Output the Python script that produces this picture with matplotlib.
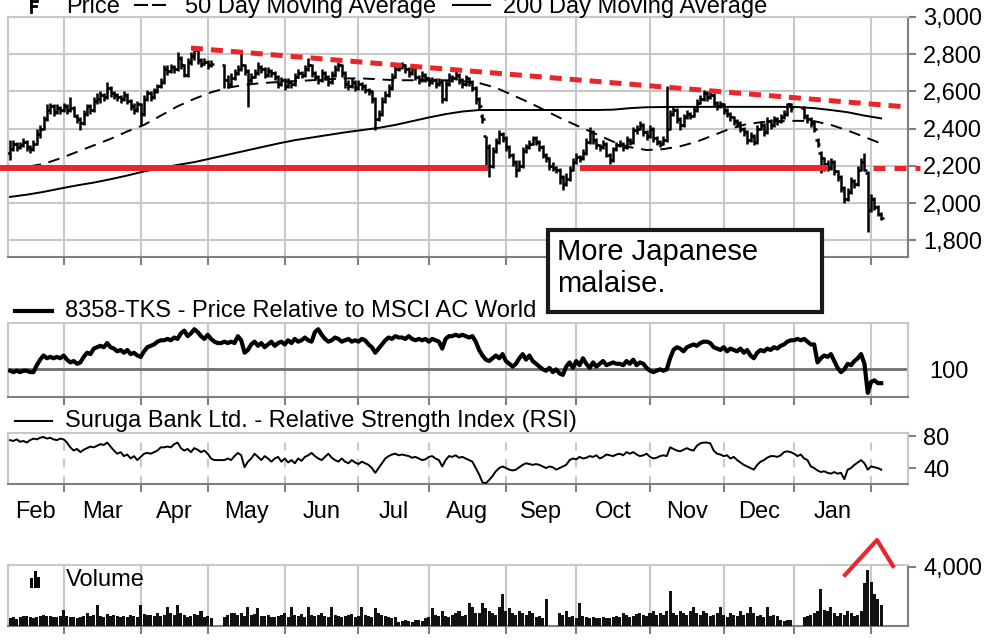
import numpy as np
import pandas as pd
import matplotlib
matplotlib.use('Agg')
import matplotlib.pyplot as plt
from matplotlib.lines import Line2D
from matplotlib.patches import Rectangle

plt.rcParams['font.family'] = ['Liberation Sans', 'DejaVu Sans']
plt.rcParams['font.size'] = 17

# trading days, Feb 2017 - Feb 2018 (None = market closed)
dates = pd.bdate_range('2017-02-07', '2018-02-06')
month_labels = ['Feb', 'Mar', 'Apr', 'May', 'Jun', 'Jul', 'Aug', 'Sep', 'Oct', 'Nov', 'Dec', 'Jan']

opens = [
    2270, 2290, 2320, 2300, 2310, 2330, 2300, 2290, 2320, 2370,
    2400, 2450, 2500, 2520, 2490, 2510, 2500, 2520, 2500, 2510,
    2470, 2450, 2430, 2480, 2520, 2500, 2550, 2560, 2580, 2570,
    2620, 2590, 2580, 2570, 2560, 2580, 2550, 2520, 2500, 2530,
    2480, 2560, 2590, 2570, 2600, 2630, 2650, 2720, 2710, 2730,
    2720, 2780, 2740, 2690, 2760, 2790, 2820, 2770, 2750, 2760,
    2740, None, None, None, 2740, 2660, 2640, 2670, 2700, 2720,
    2740, 2710, 2660, 2680, 2700, 2730, 2720, 2690, 2710, 2700,
    2680, 2640, 2660, 2630, 2650, 2640, 2680, 2700, 2690, 2720,
    2740, 2700, 2680, 2660, 2700, 2680, 2650, 2690, 2720, 2740,
    2700, 2640, 2630, 2650, 2620, 2640, 2630, 2610, 2600, 2560,
    2450, 2480, 2550, 2580, 2620, 2680, 2720, 2730, 2740, 2720,
    2700, 2730, 2680, 2660, 2690, 2670, 2650, 2660, 2640, 2650,
    2560, 2640, 2680, 2670, 2690, 2660, 2640, 2670, 2650, 2620,
    2560, 2470, 2360, 2300, 2200, 2280, 2330, 2370, 2350, 2300,
    2260, 2220, 2180, 2200, 2280, 2300, 2320, 2350, 2330, 2300,
    2260, 2240, 2200, 2190, 2180, 2140, 2100, 2130, 2180, 2220,
    2250, 2240, 2270, 2330, 2380, 2340, 2310, 2300, 2320, 2260,
    2230, 2290, 2310, 2320, 2300, 2340, 2330, 2390, 2400, 2420,
    2380, 2360, 2400, 2350, 2330, 2320, 2340, 2400, 2480, 2500,
    2450, 2420, 2460, 2480, 2470, 2500, 2540, 2560, 2590, 2570,
    2580, 2540, 2520, 2530, 2500, 2480, 2460, 2440, 2430, 2400,
    2380, 2340, 2360, 2330, 2400, 2420, 2380, 2440, 2420, 2450,
    2440, 2460, 2480, 2530, None, None, None, 2510, 2470, 2450,
    2430, 2340, 2270, 2240, 2210, 2190, 2220, 2170, 2140, 2080,
    2020, 2060, 2120, 2100, 2180, 2220, 2160, 1960, 2020, 1980,
    1940,
]
highs = [
    2340, 2340, 2330, 2330, 2350, 2340, 2310, 2340, 2400, 2420,
    2470, 2530, 2540, 2530, 2530, 2520, 2540, 2530, 2570, 2520,
    2480, 2460, 2500, 2530, 2530, 2570, 2590, 2600, 2590, 2650,
    2630, 2600, 2590, 2580, 2600, 2590, 2560, 2540, 2550, 2540,
    2580, 2610, 2600, 2620, 2640, 2670, 2740, 2740, 2750, 2740,
    2810, 2790, 2750, 2780, 2810, 2845, 2830, 2780, 2780, 2770,
    2770, None, None, None, 2750, 2690, 2700, 2720, 2740, 2820,
    2750, 2720, 2700, 2720, 2760, 2740, 2730, 2730, 2720, 2710,
    2690, 2680, 2670, 2670, 2660, 2700, 2720, 2710, 2740, 2780,
    2750, 2710, 2690, 2720, 2710, 2690, 2710, 2740, 2760, 2750,
    2710, 2660, 2670, 2660, 2660, 2650, 2640, 2620, 2610, 2570,
    2500, 2570, 2600, 2640, 2700, 2740, 2750, 2760, 2750, 2730,
    2750, 2740, 2690, 2710, 2700, 2680, 2680, 2670, 2670, 2660,
    2660, 2700, 2690, 2710, 2700, 2670, 2690, 2680, 2660, 2630,
    2570, 2480, 2360, 2320, 2300, 2350, 2390, 2380, 2360, 2310,
    2270, 2230, 2230, 2300, 2320, 2340, 2360, 2360, 2340, 2310,
    2270, 2250, 2220, 2200, 2190, 2150, 2160, 2200, 2240, 2270,
    2260, 2290, 2350, 2410, 2390, 2350, 2320, 2340, 2330, 2270,
    2300, 2330, 2340, 2330, 2360, 2350, 2410, 2420, 2440, 2430,
    2390, 2420, 2410, 2360, 2340, 2360, 2630, 2500, 2520, 2510,
    2460, 2480, 2500, 2490, 2520, 2560, 2580, 2610, 2600, 2600,
    2590, 2550, 2550, 2540, 2510, 2490, 2470, 2450, 2440, 2410,
    2390, 2380, 2370, 2420, 2440, 2430, 2460, 2450, 2470, 2460,
    2480, 2500, 2540, 2540, None, None, None, 2520, 2480, 2460,
    2440, 2350, 2280, 2250, 2230, 2240, 2230, 2180, 2150, 2090,
    2080, 2140, 2130, 2200, 2240, 2270, 2170, 2050, 2030, 1990,
    1950,
]
lows = [
    2230, 2280, 2280, 2290, 2300, 2280, 2270, 2280, 2310, 2350,
    2390, 2440, 2480, 2470, 2480, 2480, 2490, 2480, 2490, 2460,
    2430, 2390, 2420, 2470, 2480, 2490, 2530, 2540, 2550, 2560,
    2570, 2560, 2550, 2540, 2550, 2530, 2500, 2480, 2490, 2415,
    2470, 2550, 2550, 2560, 2590, 2620, 2640, 2690, 2700, 2700,
    2710, 2720, 2680, 2680, 2740, 2770, 2750, 2730, 2740, 2720,
    2730, None, None, None, 2620, 2620, 2630, 2660, 2690, 2710,
    2690, 2515, 2640, 2670, 2690, 2700, 2670, 2680, 2680, 2660,
    2620, 2630, 2610, 2620, 2620, 2630, 2670, 2670, 2680, 2710,
    2680, 2660, 2640, 2650, 2660, 2630, 2640, 2680, 2710, 2680,
    2620, 2610, 2620, 2600, 2610, 2610, 2590, 2580, 2540, 2390,
    2440, 2470, 2540, 2570, 2610, 2670, 2710, 2720, 2700, 2680,
    2690, 2660, 2640, 2650, 2650, 2630, 2640, 2620, 2630, 2540,
    2550, 2630, 2650, 2660, 2640, 2620, 2630, 2630, 2600, 2530,
    2500, 2430, 2190, 2140, 2190, 2270, 2320, 2330, 2280, 2240,
    2200, 2140, 2170, 2190, 2270, 2290, 2310, 2310, 2280, 2240,
    2220, 2180, 2170, 2160, 2100, 2070, 2090, 2120, 2170, 2210,
    2220, 2230, 2260, 2320, 2320, 2290, 2280, 2290, 2250, 2210,
    2220, 2280, 2300, 2280, 2290, 2310, 2320, 2370, 2390, 2360,
    2340, 2350, 2330, 2310, 2300, 2310, 2330, 2390, 2470, 2430,
    2390, 2410, 2450, 2450, 2460, 2490, 2530, 2550, 2550, 2560,
    2520, 2500, 2510, 2480, 2460, 2440, 2420, 2410, 2380, 2360,
    2320, 2330, 2310, 2320, 2390, 2360, 2370, 2400, 2410, 2420,
    2430, 2450, 2470, 2490, None, None, None, 2450, 2430, 2410,
    2380, 2300, 2160, 2170, 2170, 2180, 2150, 2120, 2060, 2000,
    2010, 2050, 2080, 2090, 2170, 2170, 1845, 1950, 1960, 1930,
    1910,
]
closes = [
    2290, 2320, 2300, 2310, 2330, 2300, 2290, 2320, 2370, 2400,
    2450, 2500, 2520, 2490, 2510, 2500, 2520, 2500, 2510, 2470,
    2450, 2430, 2480, 2520, 2500, 2550, 2560, 2580, 2570, 2620,
    2590, 2580, 2570, 2560, 2580, 2550, 2520, 2500, 2530, 2480,
    2560, 2590, 2570, 2600, 2630, 2650, 2720, 2710, 2730, 2720,
    2780, 2740, 2690, 2760, 2790, 2820, 2770, 2750, 2760, 2740,
    2750, None, None, None, 2660, 2640, 2670, 2700, 2720, 2740,
    2710, 2660, 2680, 2700, 2730, 2720, 2690, 2710, 2700, 2680,
    2640, 2660, 2630, 2650, 2640, 2680, 2700, 2690, 2720, 2740,
    2700, 2680, 2660, 2700, 2680, 2650, 2690, 2720, 2740, 2700,
    2640, 2630, 2650, 2620, 2640, 2630, 2610, 2600, 2560, 2450,
    2480, 2550, 2580, 2620, 2680, 2720, 2730, 2740, 2720, 2700,
    2730, 2680, 2660, 2690, 2670, 2650, 2660, 2640, 2650, 2560,
    2640, 2680, 2670, 2690, 2660, 2640, 2670, 2650, 2620, 2560,
    2520, 2450, 2300, 2200, 2280, 2330, 2370, 2350, 2300, 2260,
    2220, 2180, 2200, 2280, 2300, 2320, 2350, 2330, 2300, 2260,
    2240, 2200, 2190, 2180, 2140, 2100, 2130, 2180, 2220, 2250,
    2240, 2270, 2330, 2380, 2340, 2310, 2300, 2320, 2260, 2230,
    2290, 2310, 2320, 2300, 2340, 2330, 2390, 2400, 2420, 2380,
    2360, 2400, 2350, 2330, 2320, 2340, 2400, 2480, 2500, 2450,
    2420, 2460, 2480, 2470, 2500, 2540, 2560, 2590, 2570, 2580,
    2540, 2520, 2530, 2500, 2480, 2460, 2440, 2430, 2400, 2380,
    2340, 2360, 2330, 2400, 2420, 2380, 2440, 2420, 2450, 2440,
    2460, 2480, 2530, 2510, None, None, None, 2470, 2450, 2430,
    2400, 2320, 2240, 2210, 2190, 2220, 2170, 2140, 2080, 2020,
    2060, 2120, 2100, 2180, 2220, 2180, 1960, 2020, 1980, 1940,
    1920,
]

# moving averages, read every 5th trading day
ma50 = [
    2190, 2195, 2210, 2240, 2275, 2310, 2345, 2385, 2420, 2470,
    2520, 2560, 2595, 2620, 2635, 2645, 2650, 2655, 2660, 2665,
    2670, 2670, 2665, 2660, 2660, 2660, 2660, 2655, 2645, 2620,
    2580, 2540, 2495, 2450, 2410, 2370, 2330, 2300, 2285, 2290,
    2305, 2330, 2365, 2400, 2425, 2436, 2440, 2442, 2440, 2420,
    2390, 2355, 2320,
]
ma200 = [
    2033, 2045, 2060, 2078, 2095, 2110, 2128, 2148, 2170, 2188,
    2205, 2220, 2240, 2260, 2280, 2300, 2320, 2338, 2352, 2366,
    2380, 2392, 2404, 2420, 2440, 2460, 2478, 2492, 2500, 2500,
    2500, 2500, 2500, 2500, 2500, 2500, 2502, 2510, 2515, 2516,
    2517, 2517, 2517, 2517, 2517, 2517, 2517, 2516, 2510, 2500,
    2488, 2470, 2455,
]

rel = [
    99, 98, 99, 98, 99, 99, 98, 98, 103, 107,
    110, 108, 109, 108, 109, 108, 110, 107, 105, 106,
    104, 105, 109, 112, 111, 115, 116, 117, 116, 119,
    116, 115, 113, 114, 112, 114, 111, 112, 110, 109,
    113, 116, 117, 118, 120, 121, 121, 122, 121, 123,
    122, 126, 128, 124, 126, 129, 127, 124, 122, 125,
    122, 120, 119, 119, 120, 119, 120, 119, 124, 121,
    112, 114, 118, 120, 117, 119, 116, 118, 120, 117,
    119, 120, 118, 121, 119, 122, 120, 121, 123, 121,
    120, 127, 129, 125, 122, 120, 121, 123, 122, 120,
    121, 122, 120, 121, 120, 122, 121, 118, 116, 112,
    115, 118, 121, 123, 122, 124, 123, 123, 122, 124,
    122, 121, 122, 121, 122, 120, 122, 121, 120, 115,
    122, 124, 124, 125, 124, 125, 124, 123, 124, 120,
    114, 110, 107, 106, 108, 110, 108, 111, 106, 104,
    102, 104, 108, 111, 107, 110, 106, 104, 102, 100,
    99, 101, 98, 100, 97, 96, 102, 105, 101, 106,
    103, 108, 104, 101, 105, 102, 104, 106, 103, 104,
    105, 104, 104, 103, 106, 104, 107, 103, 105, 104,
    101, 99, 98, 99, 100, 99, 100, 108, 114, 116,
    115, 113, 116, 117, 118, 117, 119, 120, 120, 119,
    116, 115, 114, 116, 113, 115, 114, 113, 115, 112,
    114, 110, 108, 112, 114, 113, 115, 114, 116, 115,
    117, 118, 120, 121, 121, 122, 121, 122, 120, 118,
    118, 105, 108, 110, 109, 111, 106, 101, 98, 100,
    104, 103, 106, 108, 111, 104, 83, 91, 92, 90,
    90,
]

rsi = [
    75, 74, 76, 73, 74, 72, 75, 77, 76, 78,
    79, 77, 78, 76, 75, 77, 76, 72, 66, 62,
    64, 60, 63, 65, 67, 66, 68, 70, 69, 72,
    67, 62, 58, 60, 55, 57, 52, 55, 50, 54,
    58, 59, 58, 60, 62, 66, 66, 67, 66, 70,
    72, 65, 62, 64, 60, 65, 63, 60, 62, 58,
    52, 50, 50, 50, 50, 52, 50, 55, 59, 56,
    41, 48, 52, 58, 54, 50, 55, 52, 48, 52,
    54, 48, 52, 47, 50, 46, 52, 49, 54, 56,
    59, 55, 52, 50, 54, 58, 53, 50, 48, 52,
    48, 46, 50, 47, 45, 48, 46, 44, 40, 34,
    40, 46, 52, 55, 57, 58, 56, 57, 56, 55,
    53, 54, 52, 50, 51, 54, 55, 52, 50, 42,
    50, 55, 54, 56, 53, 54, 52, 50, 48, 40,
    32, 22, 21, 25, 30, 36, 40, 42, 40, 38,
    37, 38, 41, 44, 46, 45, 44, 45, 44, 42,
    40, 42, 41, 38, 40, 42, 44, 50, 52, 51,
    54, 52, 53, 55, 54, 56, 52, 54, 57, 56,
    55, 57, 58, 56, 60, 58, 60, 57, 55, 56,
    58, 54, 52, 53, 55, 56, 55, 66, 64, 62,
    61, 63, 65, 63, 62, 68, 71, 72, 72, 71,
    62, 58, 57, 55, 56, 52, 54, 50, 47, 44,
    42, 40, 38, 44, 48, 50, 53, 55, 55, 54,
    56, 60, 61, 60, 58, 55, 57, 52, 50, 42,
    40, 37, 35, 36, 34, 33, 35, 33, 34, 26,
    38, 40, 44, 47, 50, 46, 38, 42, 41, 40,
    38,
]

volume = [
    550, 620, 500, 580, 650, 700, 600, 560, 640, 680,
    720, 650, 700, 600, 620, 680, 1080, 700, 640, 600,
    560, 620, 700, 880, 650, 760, 1420, 700, 640, 820,
    700, 760, 650, 600, 700, 620, 760, 680, 640, 1420,
    800, 720, 760, 680, 880, 700, 760, 1300, 880, 760,
    1420, 900, 760, 640, 700, 820, 760, 1035, 640, 700,
    560, 0, 0, 0, 620, 760, 880, 900, 720, 900,
    700, 1300, 760, 820, 1200, 700, 680, 760, 640, 580,
    700, 760, 880, 640, 1300, 760, 700, 820, 640, 1300,
    720, 680, 760, 880, 700, 640, 1300, 760, 700, 640,
    700, 760, 820, 640, 700, 1300, 760, 700, 640, 1200,
    880, 760, 700, 640, 560, 600, 300, 350, 400, 320,
    300, 380, 420, 360, 520, 640, 1250, 760, 700, 1000,
    700, 640, 760, 880, 1000, 700, 760, 1530, 1300, 880,
    880, 1530, 1250, 1000, 880, 760, 1300, 2200, 1000, 1250,
    880, 760, 1000, 880, 760, 1000, 880, 640, 700, 560,
    1800, 0, 0, 0, 880, 760, 1000, 640, 700, 560,
    1530, 700, 640, 560, 600, 520, 560, 600, 520, 560,
    640, 700, 600, 880, 760, 640, 700, 800, 880, 760,
    700, 880, 1000, 760, 880, 760, 1000, 2360, 880, 760,
    1000, 880, 760, 1000, 1260, 880, 760, 1000, 880, 700,
    760, 880, 1260, 760, 640, 880, 760, 700, 1000, 760,
    880, 1260, 880, 700, 760, 640, 1260, 700, 760, 700,
    400, 350, 420, 380, 0, 0, 0, 640, 700, 760,
    880, 1000, 2500, 1100, 1000, 1260, 880, 700, 880, 760,
    1000, 880, 700, 760, 1000, 2880, 3825, 3000, 2200, 1800,
    1420,
]

# drawn-in annotations (price units / trading day index)
resistance = ([54, 268], [2833, 2516])
support_level = 2190
support_solid = [(-3, 142.7), (170, 244)]
support_dashed = (257.6, 271.6)

W, H = 988, 641
GRID = '#c8c8c8'
DARK = '#7f7f7f'
RED = '#e8262b'


def fx(px):
    return px / W


def fy(py):
    return 1 - py / H


def box(left, top, right, bottom):
    return [fx(left), fy(bottom), (right - left) / W, (bottom - top) / H]


o = np.array(opens, dtype=float)
h = np.array(highs, dtype=float)
l = np.array(lows, dtype=float)
c = np.array(closes, dtype=float)
n = len(c)
x = np.arange(n)
ok = ~np.isnan(c)
ma_x = np.arange(0, n, 5)

month_starts = [i for i in range(1, n) if dates[i].month != dates[i - 1].month]
bounds = [-0.6] + month_starts
label_pos = [(bounds[k] + bounds[k + 1]) / 2 for k in range(len(month_labels))]

fig = plt.figure(figsize=(W / 100, H / 100), dpi=100)
ax_p = fig.add_axes(box(8, 17, 908, 257))
ax_r = fig.add_axes(box(8, 323, 908, 397))
ax_s = fig.add_axes(box(8, 433, 908, 484))
ax_v = fig.add_axes(box(8, 565, 908, 626))


def style(ax, right_color, dashed_grid=False):
    ax.set_xlim(-0.6, 268)
    ax.set_facecolor('white')
    for s in ['top', 'left']:
        ax.spines[s].set_color(GRID)
        ax.spines[s].set_linewidth(1.5)
    ax.spines['right'].set_color(right_color)
    ax.spines['right'].set_linewidth(1.5)
    ax.spines['bottom'].set_color(DARK)
    ax.spines['bottom'].set_linewidth(1.5)
    ax.set_xticks(month_starts)
    ax.set_xticklabels([])
    ax.tick_params(axis='x', direction='out', length=6, width=1.5, color=DARK)
    ax.yaxis.tick_right()
    ax.tick_params(axis='y', direction='out', length=6, width=1.5, color=DARK,
                   labelsize=17, pad=5)
    ls = (0, (4, 4)) if dashed_grid else '-'
    for m in month_starts:
        ax.axvline(m, color=GRID, lw=1.5, ls=ls, zorder=0)


# price panel
style(ax_p, DARK)
ax_p.set_ylim(1710, 3000)
ax_p.set_yticks(range(1800, 3001, 200))
ax_p.set_yticklabels([f'{v:,}' for v in range(1800, 3001, 200)])
for v in range(1800, 3001, 200):
    ax_p.axhline(v, color=GRID, lw=1.5, zorder=0)
ax_p.vlines(x[ok], l[ok], h[ok], color='black', lw=1.8, zorder=3)
ax_p.hlines(o[ok], x[ok] - 0.8, x[ok], color='black', lw=1.8, zorder=3)
ax_p.hlines(c[ok], x[ok], x[ok] + 0.8, color='black', lw=1.8, zorder=3)
ax_p.plot(ma_x, ma50, color='black', lw=1.4, dashes=(6, 4), zorder=2)
ax_p.plot(ma_x, ma200, color='black', lw=1.4, zorder=2)
ax_p.plot(*resistance, color=RED, lw=3.6, dashes=(2.4, 1.6),
          dash_capstyle='butt', zorder=4, clip_on=False)
for a, b in support_solid:
    ax_p.plot([a, b], [support_level] * 2, color=RED, lw=4.3,
              solid_capstyle='butt', zorder=4, clip_on=False)
ax_p.plot(support_dashed, [support_level] * 2, color=RED, lw=3.6,
          dashes=(2.4, 1.8), dash_capstyle='butt', zorder=4, clip_on=False)

# relative price panel
style(ax_r, GRID)
ax_r.set_ylim(80, 133.5)
ax_r.set_yticks([100])
ax_r.tick_params(axis='y', length=0, pad=15)
ax_r.axhline(100, color='#6e6e6e', lw=2, zorder=1)
ax_r.plot(x, rel, color='black', lw=3, solid_joinstyle='round', zorder=3)

# RSI panel
style(ax_s, GRID, dashed_grid=True)
ax_s.set_ylim(20, 84)
ax_s.set_yticks([40, 80])
ax_s.plot(x, rsi, color='black', lw=1.4, zorder=3)
ax_s.set_xticks(label_pos, minor=True)
ax_s.set_xticklabels(month_labels, minor=True)
ax_s.tick_params(axis='x', which='minor', length=0, pad=12, labelsize=17)

# volume panel
style(ax_v, DARK)
ax_v.set_ylim(0, 4130)
ax_v.set_yticks([4000])
ax_v.set_yticklabels(['4,000'])
ax_v.bar(x, volume, width=0.9, color='#111111', zorder=3)

# legends
fig.add_artist(Line2D([fx(31), fx(31)], [fy(-3), fy(12)], color='black', lw=2))
fig.add_artist(Line2D([fx(31), fx(37)], [fy(1), fy(1)], color='black', lw=2))
fig.add_artist(Line2D([fx(31), fx(36)], [fy(6), fy(6)], color='black', lw=2))
fig.text(fx(66), fy(13), 'Price', va='baseline', fontsize=17)
fig.add_artist(Line2D([fx(135), fx(147)], [fy(5), fy(5)], color='black', lw=1.5))
fig.add_artist(Line2D([fx(153), fx(165)], [fy(5), fy(5)], color='black', lw=1.5))
fig.text(fx(185), fy(13), '50 Day Moving Average', va='baseline', fontsize=17)
fig.add_artist(Line2D([fx(453), fx(490)], [fy(5), fy(5)], color='black', lw=1.5))
fig.text(fx(503), fy(13), '200 Day Moving Average', va='baseline', fontsize=17)

fig.add_artist(Line2D([fx(15), fx(52)], [fy(311), fy(311)], color='black', lw=3))
fig.text(fx(65), fy(311), '8358-TKS - Price Relative to MSCI AC World',
         va='center', fontsize=17)
fig.add_artist(Line2D([fx(15), fx(52)], [fy(421), fy(421)], color='black', lw=1.5))
fig.text(fx(65), fy(421), 'Suruga Bank Ltd. - Relative Strength Index (RSI)',
         va='center', fontsize=17)
for bx, top in [(30, 578), (33.5, 571), (37, 577)]:
    fig.add_artist(Rectangle((fx(bx), fy(588)), 3 / W, (588 - top) / H,
                             transform=fig.transFigure, color='black', lw=0))
fig.text(fx(66), fy(580), 'Volume', va='center', fontsize=17)

# annotation box
fig.add_artist(Rectangle((fx(548), fy(312)), (822 - 548) / W, (312 - 230) / H,
                         transform=fig.transFigure, facecolor='white',
                         edgecolor='#1a1a1a', lw=3, zorder=10))
fig.text(fx(557), fy(238), 'More Japanese\nmalaise.', va='top', ha='left',
         fontsize=21, linespacing=1.2, zorder=11)

# red caret over the volume spike
fig.add_artist(Line2D([fx(845), fx(877), fx(893)], [fy(575), fy(540), fy(566)],
                      color=RED, lw=3, zorder=10))

fig.savefig('out.png', dpi=100, facecolor='white')
